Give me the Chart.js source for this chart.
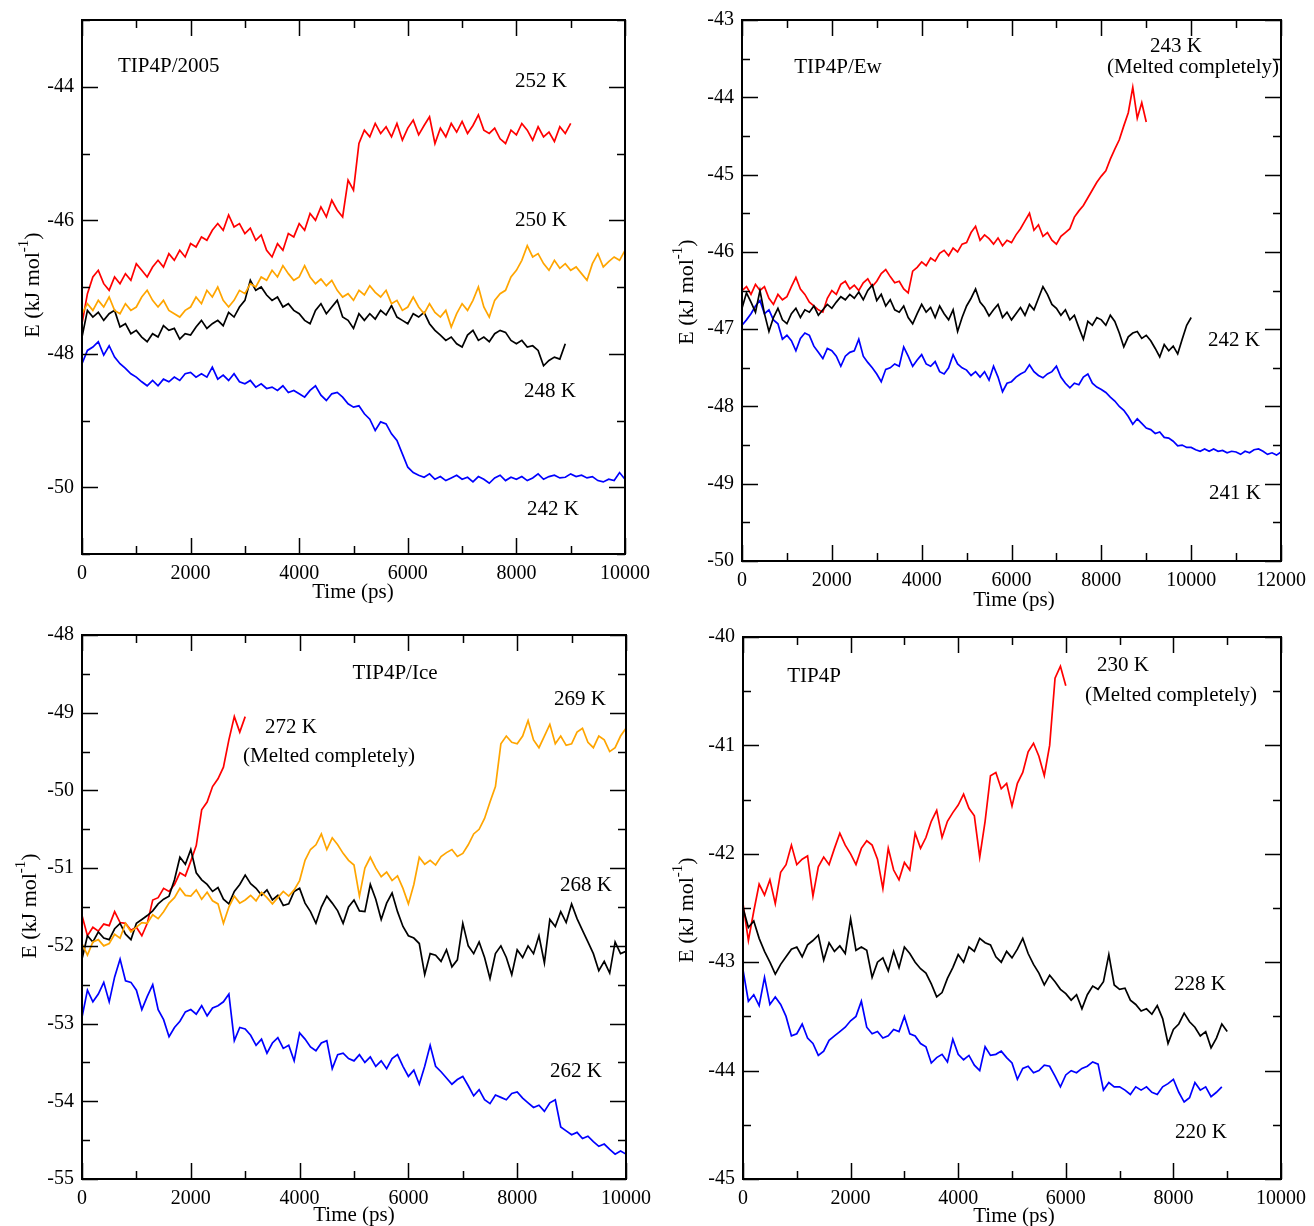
<!DOCTYPE html>
<html>
<head>
<meta charset="utf-8">
<script src="https://cdn.jsdelivr.net/npm/chart.js@4.4.0/dist/chart.umd.min.js"></script>
<style>
  html, body { margin: 0; background: #fff; }
  #wrap { position: relative; width: 1314px; height: 1226px; }
  #wrap canvas { position: absolute; left: 0; top: 0; }
</style>
</head>
<body>
<div id="wrap">
  <canvas id="c1" width="1314" height="1226"></canvas>
  <canvas id="c2" width="1314" height="1226"></canvas>
  <canvas id="c3" width="1314" height="1226"></canvas>
  <canvas id="c4" width="1314" height="1226"></canvas>
</div>
<script>
// sampling times (ps), shared by every run
const timePs = [0,100,200,300,400,500,600,700,800,900,1000,1100,1200,1300,1400,1500,1600,1700,1800,1900,
  2000,2100,2200,2300,2400,2500,2600,2700,2800,2900,3000,3100,3200,3300,3400,3500,3600,3700,3800,3900,
  4000,4100,4200,4300,4400,4500,4600,4700,4800,4900,5000,5100,5200,5300,5400,5500,5600,5700,5800,5900,
  6000,6100,6200,6300,6400,6500,6600,6700,6800,6900,7000,7100,7200,7300,7400,7500,7600,7700,7800,7900,
  8000,8100,8200,8300,8400,8500,8600,8700,8800,8900,9000,9100,9200,9300,9400,9500,9600,9700,9800,9900,
  10000,10100,10200,10300,10400,10500,10600,10700,10800,10900,11000,11100,11200,11300,11400,11500,11600,11700,11800,11900,12000];

// TIP4P/2005
const tip2005_252K = [-47.55,-47.10,-46.85,-46.75,-46.95,-47.05,-46.85,-46.95,-46.80,-46.90,
  -46.65,-46.75,-46.85,-46.70,-46.60,-46.70,-46.50,-46.60,-46.45,-46.55,
  -46.35,-46.40,-46.25,-46.30,-46.15,-46.05,-46.15,-45.92,-46.10,-46.05,
  -46.20,-46.12,-46.30,-46.22,-46.45,-46.55,-46.35,-46.45,-46.20,-46.25,
  -46.05,-46.15,-45.90,-46.00,-45.80,-45.95,-45.70,-45.85,-45.95,-45.40,
  -45.55,-44.85,-44.65,-44.75,-44.55,-44.70,-44.60,-44.75,-44.55,-44.80,
  -44.62,-44.50,-44.72,-44.58,-44.45,-44.85,-44.62,-44.75,-44.55,-44.68,
  -44.52,-44.70,-44.58,-44.42,-44.65,-44.70,-44.62,-44.78,-44.85,-44.65,
  -44.72,-44.55,-44.65,-44.80,-44.60,-44.75,-44.68,-44.82,-44.60,-44.70,-44.55];
const tip2005_250K = [-47.40,-47.25,-47.35,-47.20,-47.30,-47.15,-47.35,-47.40,-47.25,-47.35,
  -47.30,-47.15,-47.05,-47.20,-47.30,-47.20,-47.35,-47.40,-47.45,-47.35,
  -47.30,-47.15,-47.25,-47.05,-47.15,-47.00,-47.20,-47.30,-47.20,-47.05,
  -47.10,-46.95,-47.00,-46.85,-46.90,-46.75,-46.85,-46.68,-46.80,-46.90,
  -46.85,-46.68,-46.85,-46.95,-46.88,-46.98,-46.90,-47.05,-47.15,-47.10,
  -47.20,-47.05,-47.12,-46.98,-47.08,-47.15,-47.05,-47.25,-47.20,-47.35,
  -47.30,-47.15,-47.30,-47.40,-47.25,-47.38,-47.45,-47.35,-47.60,-47.40,
  -47.25,-47.35,-47.20,-47.00,-47.30,-47.45,-47.20,-47.10,-47.05,-46.85,
  -46.75,-46.60,-46.38,-46.55,-46.50,-46.65,-46.75,-46.60,-46.72,-46.65,
  -46.75,-46.70,-46.80,-46.90,-46.65,-46.50,-46.70,-46.62,-46.55,-46.60,-46.45];
const tip2005_248K = [-47.75,-47.35,-47.45,-47.38,-47.50,-47.40,-47.35,-47.60,-47.55,-47.70,
  -47.65,-47.75,-47.82,-47.70,-47.75,-47.58,-47.65,-47.62,-47.78,-47.70,
  -47.72,-47.60,-47.50,-47.62,-47.55,-47.50,-47.58,-47.38,-47.45,-47.30,
  -47.20,-46.90,-47.05,-47.00,-47.12,-47.20,-47.15,-47.30,-47.25,-47.35,
  -47.40,-47.50,-47.55,-47.35,-47.25,-47.40,-47.30,-47.20,-47.45,-47.50,
  -47.62,-47.40,-47.50,-47.40,-47.48,-47.35,-47.42,-47.28,-47.45,-47.50,
  -47.55,-47.40,-47.45,-47.38,-47.55,-47.65,-47.72,-47.80,-47.75,-47.85,
  -47.90,-47.72,-47.65,-47.80,-47.75,-47.82,-47.70,-47.65,-47.68,-47.80,
  -47.85,-47.80,-47.90,-47.88,-47.95,-48.18,-48.10,-48.05,-48.08,-47.85];
const tip2005_242K = [-48.15,-47.95,-47.90,-47.82,-48.02,-47.88,-48.05,-48.15,-48.22,-48.30,
  -48.35,-48.42,-48.48,-48.40,-48.48,-48.38,-48.42,-48.35,-48.40,-48.30,
  -48.28,-48.35,-48.30,-48.35,-48.20,-48.38,-48.32,-48.40,-48.30,-48.42,
  -48.45,-48.40,-48.50,-48.45,-48.52,-48.50,-48.55,-48.48,-48.58,-48.55,
  -48.60,-48.65,-48.55,-48.48,-48.62,-48.70,-48.60,-48.58,-48.65,-48.75,
  -48.80,-48.78,-48.90,-48.98,-49.15,-49.02,-49.05,-49.20,-49.30,-49.50,
  -49.70,-49.78,-49.82,-49.85,-49.80,-49.88,-49.84,-49.90,-49.86,-49.82,
  -49.88,-49.85,-49.92,-49.84,-49.88,-49.94,-49.86,-49.82,-49.90,-49.85,
  -49.88,-49.84,-49.90,-49.86,-49.80,-49.88,-49.84,-49.82,-49.86,-49.85,
  -49.80,-49.84,-49.82,-49.86,-49.84,-49.90,-49.92,-49.88,-49.90,-49.78,-49.88];

// TIP4P/Ew
const tipEw_243K = [-46.50,-46.45,-46.55,-46.42,-46.50,-46.45,-46.60,-46.68,-46.55,-46.62,
  -46.58,-46.45,-46.33,-46.48,-46.55,-46.65,-46.70,-46.75,-46.78,-46.60,
  -46.50,-46.55,-46.42,-46.38,-46.48,-46.43,-46.50,-46.40,-46.35,-46.45,
  -46.38,-46.28,-46.23,-46.32,-46.40,-46.38,-46.48,-46.53,-46.25,-46.20,
  -46.13,-46.18,-46.08,-46.12,-46.02,-45.98,-46.05,-45.95,-46.00,-45.90,
  -45.88,-45.75,-45.67,-45.85,-45.78,-45.83,-45.90,-45.82,-45.92,-45.85,
  -45.88,-45.78,-45.70,-45.60,-45.50,-45.72,-45.65,-45.80,-45.75,-45.85,
  -45.90,-45.80,-45.75,-45.70,-45.55,-45.47,-45.40,-45.30,-45.20,-45.10,
  -45.02,-44.95,-44.80,-44.67,-44.55,-44.37,-44.20,-43.87,-44.27,-44.07,-44.32];
const tipEw_242K = [-46.73,-46.53,-46.65,-46.78,-46.50,-46.80,-47.03,-46.85,-46.73,-46.88,
  -46.93,-46.80,-46.73,-46.85,-46.75,-46.78,-46.70,-46.82,-46.75,-46.68,
  -46.73,-46.65,-46.58,-46.62,-46.55,-46.60,-46.52,-46.62,-46.50,-46.43,
  -46.63,-46.55,-46.70,-46.62,-46.75,-46.78,-46.70,-46.85,-46.93,-46.80,
  -46.68,-46.78,-46.72,-46.85,-46.70,-46.80,-46.88,-46.75,-47.03,-46.85,
  -46.70,-46.60,-46.48,-46.65,-46.72,-46.83,-46.75,-46.68,-46.85,-46.78,
  -46.88,-46.80,-46.72,-46.82,-46.68,-46.75,-46.60,-46.45,-46.55,-46.68,
  -46.73,-46.82,-46.75,-46.88,-46.82,-46.98,-47.13,-46.90,-46.95,-46.85,
  -46.88,-46.95,-46.82,-46.90,-47.05,-47.23,-47.10,-47.05,-47.03,-47.12,
  -47.08,-47.15,-47.25,-47.36,-47.20,-47.28,-47.22,-47.32,-47.13,-46.95,-46.85];
const tipEw_241K = [-46.95,-46.88,-46.80,-46.70,-46.63,-46.80,-46.75,-46.88,-46.93,-47.13,
  -47.08,-47.15,-47.28,-47.12,-47.05,-47.08,-47.22,-47.30,-47.38,-47.25,
  -47.28,-47.35,-47.48,-47.35,-47.30,-47.28,-47.13,-47.35,-47.43,-47.50,
  -47.58,-47.68,-47.52,-47.50,-47.45,-47.48,-47.23,-47.35,-47.48,-47.40,
  -47.33,-47.45,-47.48,-47.42,-47.55,-47.58,-47.50,-47.33,-47.45,-47.50,
  -47.53,-47.60,-47.55,-47.62,-47.55,-47.66,-47.48,-47.62,-47.81,-47.70,
  -47.68,-47.62,-47.58,-47.55,-47.46,-47.55,-47.60,-47.63,-47.58,-47.55,
  -47.48,-47.62,-47.70,-47.76,-47.70,-47.72,-47.62,-47.58,-47.70,-47.75,
  -47.78,-47.82,-47.88,-47.93,-48.00,-48.05,-48.13,-48.23,-48.16,-48.22,
  -48.28,-48.30,-48.35,-48.33,-48.40,-48.41,-48.45,-48.51,-48.50,-48.53,
  -48.53,-48.56,-48.58,-48.55,-48.58,-48.55,-48.58,-48.57,-48.60,-48.58,
  -48.59,-48.62,-48.58,-48.60,-48.56,-48.55,-48.58,-48.62,-48.60,-48.63,-48.59];

// TIP4P/Ice
const tipIce_272K = [-51.61,-51.87,-51.76,-51.81,-51.72,-51.74,-51.56,-51.70,-51.71,-51.80,
  -51.76,-51.87,-51.71,-51.41,-51.38,-51.26,-51.30,-51.21,-51.06,-51.10,
  -50.91,-50.71,-50.25,-50.15,-49.95,-49.85,-49.70,-49.35,-49.05,-49.25,-49.05];
const tipIce_269K = [-51.97,-52.12,-51.95,-51.92,-52.00,-51.97,-51.85,-51.90,-51.71,-51.82,
  -51.76,-51.70,-51.71,-51.60,-51.65,-51.56,-51.45,-51.38,-51.26,-51.35,
  -51.36,-51.28,-51.40,-51.31,-51.42,-51.46,-51.71,-51.50,-51.36,-51.45,
  -51.41,-51.35,-51.42,-51.31,-51.38,-51.46,-51.38,-51.30,-51.36,-51.28,
  -51.16,-50.90,-50.76,-50.70,-50.56,-50.76,-50.61,-50.70,-50.81,-50.90,
  -50.96,-51.36,-51.00,-50.86,-51.00,-51.11,-51.05,-51.16,-51.10,-51.26,
  -51.46,-51.21,-50.86,-50.95,-50.90,-50.96,-50.85,-50.80,-50.76,-50.85,
  -50.81,-50.70,-50.56,-50.50,-50.36,-50.15,-49.95,-49.40,-49.30,-49.38,
  -49.40,-49.30,-49.10,-49.35,-49.45,-49.30,-49.15,-49.40,-49.30,-49.42,
  -49.40,-49.25,-49.20,-49.38,-49.45,-49.30,-49.35,-49.50,-49.45,-49.30,-49.20];
const tipIce_268K = [-52.17,-51.87,-51.95,-51.82,-51.90,-51.92,-51.78,-51.71,-51.85,-51.92,
  -51.71,-51.66,-51.61,-51.55,-51.46,-51.40,-51.36,-51.15,-50.86,-50.95,
  -50.76,-51.06,-51.15,-51.21,-51.30,-51.25,-51.40,-51.46,-51.30,-51.21,
  -51.09,-51.20,-51.26,-51.35,-51.28,-51.41,-51.35,-51.48,-51.46,-51.30,
  -51.26,-51.45,-51.56,-51.71,-51.50,-51.36,-51.45,-51.55,-51.71,-51.50,
  -51.41,-51.55,-51.56,-51.21,-51.40,-51.66,-51.45,-51.32,-51.56,-51.75,
  -51.87,-51.90,-51.97,-52.37,-52.10,-52.12,-52.20,-52.05,-52.27,-52.18,
  -51.71,-52.00,-52.10,-51.95,-52.15,-52.42,-52.10,-52.00,-52.15,-52.37,
  -52.05,-52.15,-52.00,-52.10,-51.87,-52.22,-51.66,-51.75,-51.56,-51.70,
  -51.46,-51.65,-51.80,-51.95,-52.10,-52.32,-52.20,-52.35,-51.95,-52.10,-52.07];
const tipIce_262K = [-52.92,-52.57,-52.72,-52.62,-52.47,-52.72,-52.40,-52.17,-52.45,-52.47,
  -52.57,-52.82,-52.65,-52.50,-52.82,-52.95,-53.17,-53.05,-52.97,-52.85,
  -52.82,-52.88,-52.77,-52.90,-52.80,-52.77,-52.72,-52.62,-53.22,-53.05,
  -53.07,-53.15,-53.28,-53.20,-53.38,-53.25,-53.18,-53.32,-53.28,-53.48,
  -53.12,-53.20,-53.30,-53.35,-53.25,-53.22,-53.58,-53.40,-53.38,-53.45,
  -53.48,-53.40,-53.50,-53.43,-53.55,-53.48,-53.58,-53.45,-53.40,-53.55,
  -53.68,-53.60,-53.78,-53.55,-53.28,-53.55,-53.62,-53.70,-53.78,-53.72,
  -53.68,-53.80,-53.93,-53.85,-53.98,-54.03,-53.92,-53.95,-53.98,-53.90,
  -53.88,-53.96,-54.02,-54.08,-54.05,-54.13,-54.02,-53.98,-54.33,-54.38,
  -54.43,-54.40,-54.48,-54.45,-54.52,-54.58,-54.55,-54.62,-54.68,-54.64,-54.68];

// TIP4P
const tip4p_230K = [-42.46,-42.80,-42.53,-42.28,-42.38,-42.24,-42.46,-42.17,-42.10,-41.92,
  -42.10,-42.05,-42.02,-42.39,-42.12,-42.03,-42.10,-41.95,-41.81,-41.92,
  -42.00,-42.10,-41.95,-41.88,-41.92,-42.05,-42.32,-41.95,-42.15,-42.24,
  -42.08,-42.15,-41.81,-41.95,-41.85,-41.70,-41.60,-41.85,-41.70,-41.62,
  -41.55,-41.45,-41.58,-41.65,-42.03,-41.70,-41.28,-41.25,-41.40,-41.35,
  -41.56,-41.35,-41.25,-41.06,-40.98,-41.10,-41.28,-41.00,-40.38,-40.27,-40.45];
const tip4p_228K = [-42.50,-42.68,-42.62,-42.78,-42.90,-43.00,-43.11,-43.02,-42.95,-42.88,
  -42.86,-42.95,-42.84,-42.80,-42.75,-42.98,-42.82,-42.90,-42.85,-42.92,
  -42.60,-42.89,-42.86,-42.89,-43.14,-43.00,-42.96,-43.08,-42.90,-43.05,
  -42.86,-42.92,-43.00,-43.06,-43.10,-43.20,-43.32,-43.28,-43.15,-43.05,
  -42.93,-43.00,-42.86,-42.90,-42.78,-42.82,-42.84,-42.95,-43.00,-42.90,
  -42.96,-42.88,-42.78,-42.92,-43.02,-43.10,-43.21,-43.12,-43.18,-43.25,
  -43.29,-43.35,-43.30,-43.43,-43.30,-43.22,-43.25,-43.18,-42.93,-43.21,
  -43.25,-43.24,-43.35,-43.39,-43.45,-43.43,-43.48,-43.40,-43.52,-43.75,
  -43.62,-43.57,-43.47,-43.55,-43.60,-43.68,-43.64,-43.79,-43.70,-43.57,-43.64];
const tip4p_220K = [-43.07,-43.36,-43.30,-43.40,-43.14,-43.39,-43.32,-43.39,-43.50,-43.68,
  -43.66,-43.57,-43.70,-43.75,-43.86,-43.82,-43.72,-43.68,-43.64,-43.60,
  -43.54,-43.50,-43.36,-43.60,-43.66,-43.64,-43.70,-43.68,-43.62,-43.64,
  -43.50,-43.66,-43.68,-43.75,-43.78,-43.93,-43.88,-43.85,-43.92,-43.71,
  -43.85,-43.90,-43.86,-43.95,-44.00,-43.78,-43.86,-43.85,-43.82,-43.88,
  -43.93,-44.08,-43.98,-43.96,-44.02,-44.00,-43.95,-43.96,-44.05,-44.15,
  -44.04,-44.00,-44.02,-43.98,-43.96,-43.92,-43.94,-44.18,-44.11,-44.15,
  -44.15,-44.18,-44.22,-44.15,-44.18,-44.15,-44.20,-44.22,-44.15,-44.12,
  -44.08,-44.20,-44.29,-44.25,-44.11,-44.18,-44.15,-44.24,-44.20,-44.15];

const RED = '#ff0000', ORANGE = '#ffa500', BLACK = '#000000', BLUE = '#0000ff';
const SERIF = '"Liberation Serif", "Times New Roman", serif';
const PAGE_W = 1314, PAGE_H = 1226;

const panels = [
  { id: 'c1', box: [82, 12, 625, 554], xMax: 10000, yMin: -51, yMax: -43, yStep: 1, yMajor: 2,
    series: [[tip2005_250K, ORANGE], [tip2005_248K, BLACK], [tip2005_252K, RED], [tip2005_242K, BLUE]],
    notes: [['TIP4P/2005', 118, 66, 'left'], ['252 K', 541, 81], ['250 K', 541, 220], ['248 K', 550, 391], ['242 K', 553, 509]],
    xTitle: [353, 592], yTitle: [33, 285] },
  { id: 'c2', box: [742, 18, 1286, 561], xMax: 12000, yMin: -50, yMax: -43, yStep: 0.5, yMajor: 1,
    series: [[tipEw_242K, BLACK], [tipEw_241K, BLUE], [tipEw_243K, RED]],
    notes: [['TIP4P/Ew', 838, 67], ['243 K', 1176, 46], ['(Melted completely)', 1193, 67], ['242 K', 1234, 340], ['241 K', 1235, 493]],
    xTitle: [1014, 600], yTitle: [687, 292] },
  { id: 'c3', box: [82, 635, 626, 1179], xMax: 10000, yMin: -55, yMax: -48, yStep: 0.5, yMajor: 1,
    series: [[tipIce_269K, ORANGE], [tipIce_268K, BLACK], [tipIce_272K, RED], [tipIce_262K, BLUE]],
    notes: [['TIP4P/Ice', 395, 673], ['269 K', 580, 699], ['272 K', 291, 727], ['(Melted completely)', 329, 756], ['268 K', 586, 885], ['262 K', 576, 1071]],
    xTitle: [354, 1215], yTitle: [30, 906] },
  { id: 'c4', box: [743, 637, 1287, 1179], xMax: 10000, yMin: -45, yMax: -40, yStep: 0.5, yMajor: 1,
    series: [[tip4p_228K, BLACK], [tip4p_220K, BLUE], [tip4p_230K, RED]],
    notes: [['TIP4P', 814, 676], ['230 K', 1123, 665], ['(Melted completely)', 1171, 695], ['228 K', 1200, 984], ['220 K', 1201, 1132]],
    xTitle: [1014, 1216], yTitle: [687, 910] }
];

function isMajor(v, step) {
  const r = Math.abs(v / step - Math.round(v / step));
  return r < 1e-6;
}

function drawYTitle(ctx, cx, cy) {
  const main = '22px ' + SERIF, sup = '15px ' + SERIF;
  ctx.save();
  ctx.translate(cx, cy);
  ctx.rotate(-Math.PI / 2);
  ctx.textBaseline = 'middle';
  ctx.textAlign = 'left';
  ctx.font = main;
  const w1 = ctx.measureText('E (kJ mol').width;
  const w3 = ctx.measureText(')').width;
  ctx.font = sup;
  const w2 = ctx.measureText('-1').width;
  const x0 = -(w1 + w2 + w3) / 2;
  ctx.font = main;
  ctx.fillText('E (kJ mol', x0, 0);
  ctx.font = sup;
  ctx.fillText('-1', x0 + w1, -9);
  ctx.font = main;
  ctx.fillText(')', x0 + w1 + w2, 0);
  ctx.restore();
}

// frame, inward ticks on all four sides, and the text labels
const panelDeco = {
  id: 'panelDeco',
  afterDraw(chart, args, opts) {
    const { ctx, chartArea: a, scales: { x, y } } = chart;
    ctx.save();
    ctx.strokeStyle = '#000';
    ctx.lineWidth = 1.5;
    ctx.beginPath();
    x.ticks.forEach(t => {
      const px = Math.round(x.getPixelForValue(t.value)) + 0.5;
      const len = isMajor(t.value, 2000) ? 16 : 8;
      ctx.moveTo(px, a.bottom); ctx.lineTo(px, a.bottom - len);
      ctx.moveTo(px, a.top); ctx.lineTo(px, a.top + len);
    });
    y.ticks.forEach(t => {
      const py = Math.round(y.getPixelForValue(t.value)) + 0.5;
      const len = isMajor(t.value, opts.yMajor) ? 16 : 8;
      ctx.moveTo(a.left, py); ctx.lineTo(a.left + len, py);
      ctx.moveTo(a.right, py); ctx.lineTo(a.right - len, py);
    });
    ctx.stroke();
    ctx.lineWidth = 2;
    ctx.strokeRect(a.left, a.top, a.right - a.left, a.bottom - a.top);

    ctx.fillStyle = '#000';
    ctx.font = '21px ' + SERIF;
    ctx.textBaseline = 'middle';
    opts.notes.forEach(n => {
      ctx.textAlign = n[3] || 'center';
      ctx.fillText(n[0], n[1], n[2]);
    });
    ctx.textAlign = 'center';
    ctx.fillText('Time (ps)', opts.xTitle[0], opts.xTitle[1]);
    drawYTitle(ctx, opts.yTitle[0], opts.yTitle[1]);
    ctx.restore();
  }
};

const tickFont = { family: SERIF, size: 20 };

panels.forEach(p => {
  const datasets = p.series.map(([values, color]) => ({
    data: values.map((v, i) => ({ x: timePs[i], y: v })),
    borderColor: color,
    borderWidth: 1.7,
    pointRadius: 0,
    tension: 0,
    fill: false
  }));
  new Chart(document.getElementById(p.id), {
    type: 'line',
    data: { datasets },
    options: {
      responsive: false,
      animation: false,
      events: [],
      layout: {
        padding: { left: p.box[0] - 70, top: p.box[1], right: PAGE_W - p.box[2], bottom: PAGE_H - p.box[3] - 60 }
      },
      plugins: {
        legend: { display: false },
        tooltip: { enabled: false },
        panelDeco: { yMajor: p.yMajor, notes: p.notes, xTitle: p.xTitle, yTitle: p.yTitle }
      },
      scales: {
        x: {
          type: 'linear', min: 0, max: p.xMax,
          afterFit: s => { s.height = 60; },
          grid: { display: false, drawTicks: false },
          border: { display: false },
          ticks: {
            stepSize: 1000, autoSkip: false, maxRotation: 0, padding: 8,
            font: tickFont, color: '#000',
            callback: v => isMajor(v, 2000) ? String(v) : ''
          }
        },
        y: {
          type: 'linear', min: p.yMin, max: p.yMax,
          afterFit: s => { s.width = 70; },
          grid: { display: false, drawTicks: false },
          border: { display: false },
          ticks: {
            stepSize: p.yStep, autoSkip: false, padding: 8,
            font: tickFont, color: '#000',
            callback: v => isMajor(v, p.yMajor) ? String(v) : ''
          }
        }
      }
    },
    plugins: [panelDeco]
  });
});
</script>
</body>
</html>
